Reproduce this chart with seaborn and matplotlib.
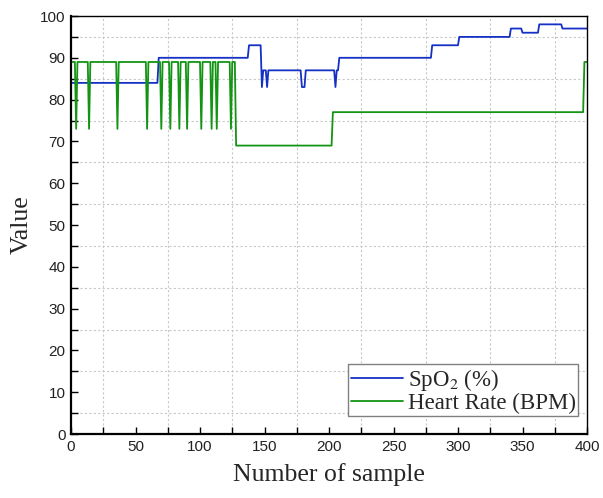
import numpy as np
import pandas as pd
import matplotlib
matplotlib.use('Agg')
import matplotlib.pyplot as plt
import seaborn as sns
from matplotlib.ticker import MultipleLocator

# sample index range
n_samples = 400

# SpO2 (%): (first sample, level)
spo2_starts = [1, 68, 138, 148, 149, 152, 153, 179, 182, 205, 206, 208, 280, 301, 341, 350, 363, 381]
spo2_levels = [84, 90, 93, 83, 87, 83, 87, 83, 87, 83, 87, 90, 93, 95, 97, 96, 98, 97]

# Heart rate (BPM) step segments plus single-sample drops
hr_starts = [1, 128, 203, 398]
hr_levels = [89, 69, 77, 89]
hr_dip_samples = [4, 14, 36, 59, 70, 77, 84, 90, 101, 109, 113, 124]
hr_dip_value = 73


def expand_steps(starts, levels, last):
    ends = starts[1:] + [last + 1]
    counts = [e - s for s, e in zip(starts, ends)]
    return np.repeat(levels, counts).astype(float)


x = np.arange(1, n_samples + 1)
spo2 = expand_steps(spo2_starts, spo2_levels, n_samples)
hr = expand_steps(hr_starts, hr_levels, n_samples)
hr[np.array(hr_dip_samples) - 1] = hr_dip_value

df = pd.DataFrame({'sample': x, 'spo2': spo2, 'hr': hr})

sns.set_theme(style='ticks')
plt.rcParams['font.family'] = ['Liberation Sans', 'DejaVu Sans']
plt.rcParams['mathtext.fontset'] = 'stix'

fig = plt.figure(figsize=(6.03, 4.98), dpi=100)
ax = fig.add_axes([71 / 603, 1 - 434 / 498, 516 / 603, 418 / 498])

sns.lineplot(data=df, x='sample', y='spo2', ax=ax, color='#1530c4', lw=1.3,
             estimator=None, label=r'SpO$_2$ (%)')
sns.lineplot(data=df, x='sample', y='hr', ax=ax, color='#139413', lw=1.3,
             estimator=None, label='Heart Rate (BPM)')

ax.set_xlim(0, 400)
ax.set_ylim(0, 100)
ax.xaxis.set_major_locator(MultipleLocator(50))
ax.xaxis.set_minor_locator(MultipleLocator(25))
ax.yaxis.set_major_locator(MultipleLocator(10))
ax.yaxis.set_minor_locator(MultipleLocator(5))

# dotted grid only at the in-between (minor) positions
ax.xaxis.grid(False, which='major')
ax.yaxis.grid(False, which='major')
ax.xaxis.grid(True, which='minor', color='#c8c8c8', linestyle=(0, (2, 2)), linewidth=0.8)
ax.yaxis.grid(True, which='minor', color='#c8c8c8', linestyle=(0, (2, 2)), linewidth=0.8)
ax.tick_params(which='both', direction='in', top=False, right=False,
               length=5, width=1, color='black')
ax.tick_params(which='major', labelsize=11, pad=4, labelcolor='#222222')

for side in ['left', 'bottom']:
    ax.spines[side].set_linewidth(1.6)
for side in ['top', 'right']:
    ax.spines[side].set_linewidth(1.0)
for sp in ax.spines.values():
    sp.set_color('black')

serif = ['Liberation Serif', 'DejaVu Serif']
ax.set_xlabel('Number of sample', fontsize=18.5, family=serif, labelpad=7)
ax.set_ylabel('Value', fontsize=18.5, family=serif, labelpad=5)

leg = ax.legend(loc='lower right', bbox_to_anchor=(0.983, 0.043),
                prop={'family': serif, 'size': 16.5}, frameon=True,
                fancybox=False, edgecolor='#808080', framealpha=1,
                borderpad=0.1, labelspacing=0.0, handlelength=2.3,
                handletextpad=0.2, borderaxespad=0)
leg.get_frame().set_linewidth(1.0)

fig.savefig('out.png', dpi=100)
